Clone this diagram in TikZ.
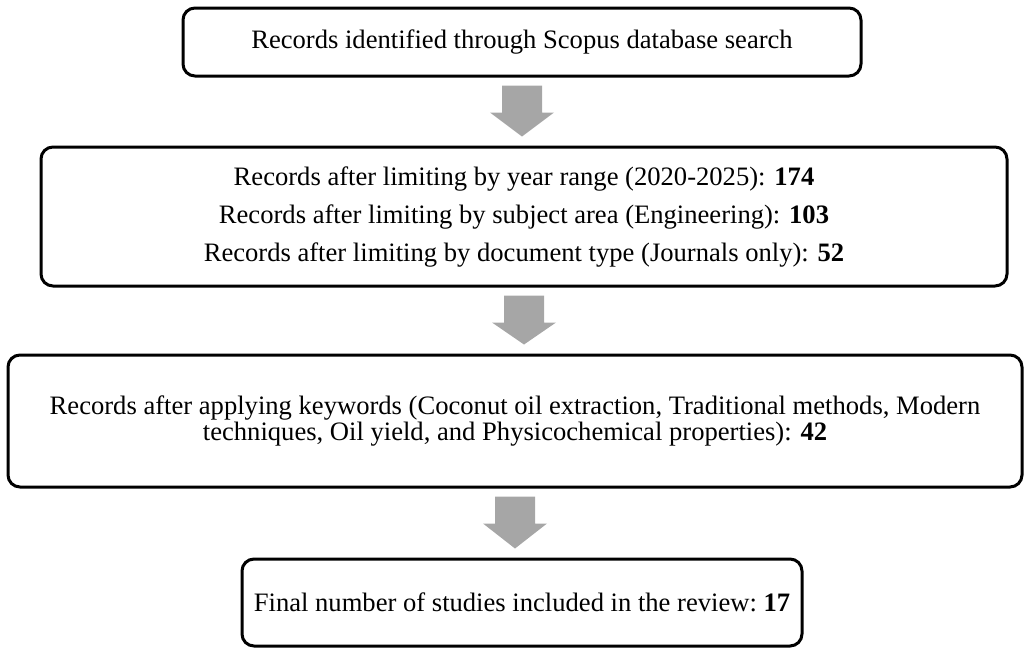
\documentclass[tikz,border=0pt]{standalone}
\usepackage{fontspec}
\setmainfont{Liberation Serif}
\usetikzlibrary{calc,positioning}
\definecolor{ArrowGrey}{RGB}{166,166,166}
\tikzset{
  recbox/.style={draw=black,line width=1.5pt,rounded corners=6pt,align=center,
    inner sep=0pt,font=\fontsize{13.3}{15}\selectfont},
}
\newcommand{\flowarrow}[2]{%
  \coordinate (top) at ($(#1.south)+(0,8)$);
  \coordinate (tip) at ($(top |- #2.north)+(0,-9)$);
  \fill[ArrowGrey] ($(top)+(-20,0)$) -- ++(40,0) -- ++(0,27) -- ++(12,0) -- (tip)
    -- ($(top)+(-32,27)$) -- ($(top)+(-20,27)$) -- cycle;}

\begin{document}
\begin{tikzpicture}[x=0.5pt,y=-0.5pt]
  \useasboundingbox (0,0) rectangle (1026,650);
  % boxes
  \node[recbox,minimum width=339pt,minimum height=34pt] (identified) at (522,42)
    {Records identified through Scopus database search};
  \node[recbox,minimum width=483pt,minimum height=69.5pt,font=\fontsize{13.3}{19}\selectfont] (limited) at (524,216.5)
    {Records after limiting by year range (2020-2025): \textbf{174}\\
     Records after limiting by subject area (Engineering): \textbf{103}\\
     Records after limiting by document type (Journals only): \textbf{52}};
  \node[recbox,minimum width=507pt,minimum height=66pt,font=\fontsize{13.3}{13}\selectfont] (keywords) at (515,421)
    {Records after applying keywords (Coconut oil extraction, Traditional methods, Modern\\
     techniques, Oil yield, and Physicochemical properties): \textbf{42}};
  \node[recbox,minimum width=280pt,minimum height=43.5pt] (included) at (522,602.5)
    {Final number of studies included in the review:\ \textbf{17}};
  % arrows
  \flowarrow{identified}{limited}
  \flowarrow{limited}{keywords}
  \flowarrow{keywords}{included}
\end{tikzpicture}
\end{document}
